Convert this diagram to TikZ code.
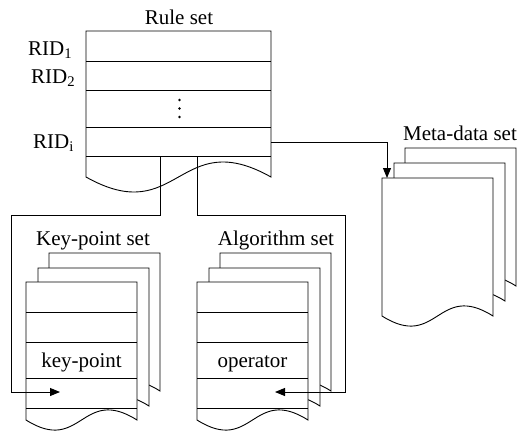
\documentclass[tikz,border=0pt]{standalone}
\usepackage{fontspec}
\setmainfont{Liberation Serif}
\usetikzlibrary{arrows.meta}
\newcommand{\docshape}[5]{%
  \filldraw[page] (#1,#4) -- (#1,#2) -- (#3,#2) -- (#3,#4)
    .. controls ({(#1+#3)/2},{#4-#5}) and ({(#1+#3)/2},{#4+#5}) .. (#1,#4) -- cycle;}
\tikzset{
  page/.style={fill=white, draw=black, line width=0.9pt},
  rowline/.style={line width=0.9pt},
  conn/.style={line width=0.9pt, -{Triangle[length=10pt,width=8pt]}},
  lbl/.style={font=\fontsize{21}{24}\selectfont, inner sep=0pt, anchor=base},
  dotmark/.style={fill=black}
}
\begin{document}
\begin{tikzpicture}[x=1pt,y=-1pt]
\useasboundingbox (0,0) rectangle (517,431);
% ---------- Rule set ----------
\docshape{86}{31}{271}{177}{52}
\foreach \yy in {61,90,127,156} \draw[rowline] (86,\yy) -- (271,\yy);
\node[lbl] (rstitle) at (179,24) {Rule set};
\node[lbl, anchor=base west] (rid1) at (28,55) {RID\textsubscript{1}};
\node[lbl, anchor=base west] (rid2) at (31,83) {RID\textsubscript{2}};
\node[lbl, anchor=base west] (ridi) at (33,148) {RID\textsubscript{i}};
\foreach \yy in {100,108.5,117} \fill[dotmark] (179.5,\yy) circle (1.3);
\coordinate (ridi-e) at (271,142);
\coordinate (rs-k) at (160,156);
\coordinate (rs-a) at (197,156);
% ---------- Key-point set ----------
\docshape{49}{253}{160}{391}{35}
\docshape{38}{268}{149}{406}{35}
\docshape{26}{282}{137}{420}{35}
\foreach \yy in {312,342,378,408} \draw[rowline] (26,\yy) -- (137,\yy);
\node[lbl] (kptitle) at (93,245) {Key-point set};
\node[lbl] (kp) at (81.5,367) {key-point};
\coordinate (kp-bend) at (11,215);
\coordinate (kp-tip) at (60,392);
% ---------- Algorithm set ----------
\docshape{220}{253}{331}{391}{35}
\docshape{209}{268}{320}{406}{35}
\docshape{197}{282}{308}{420}{35}
\foreach \yy in {312,342,378,408} \draw[rowline] (197,\yy) -- (308,\yy);
\node[lbl] (altitle) at (276,245) {Algorithm set};
\node[lbl] (op) at (252.5,367) {operator};
\coordinate (al-bend) at (345,215);
\coordinate (al-tip) at (275,392);
% ---------- Meta-data set ----------
\docshape{405}{148}{516}{286}{35}
\docshape{394}{163}{505}{301}{35}
\docshape{382}{178}{493}{316}{35}
\node[lbl] (mdtitle) at (460,140) {Meta-data set};
\coordinate (md-tip) at (387,178);
% ---------- connectors ----------
\draw[conn] (ridi-e) -| (md-tip);
\draw[conn] (rs-k) |- (kp-bend) |- (kp-tip);
\draw[conn] (rs-a) |- (al-bend) |- (al-tip);
\end{tikzpicture}
\end{document}
